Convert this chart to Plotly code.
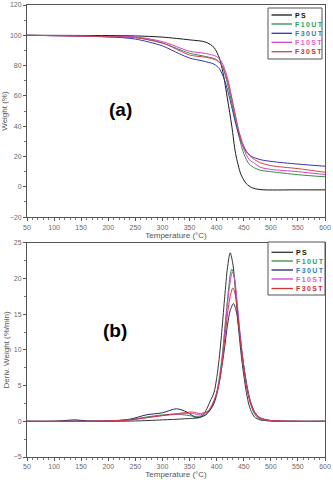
import plotly.graph_objects as go

# ---- TGA data (panel a) ----
ps_T = [50, 150, 250, 300, 350, 380, 395, 405, 412, 420, 428, 435, 445, 455, 465, 480, 550, 600]
ps_W = [100, 99.9, 99.6, 98.8, 97, 95.5, 92, 85, 75, 58, 40, 22, 8, 2, -0.5, -1.8, -2, -2]

f10ut_T = [50, 150, 200, 250, 300, 350, 380, 400, 410, 420, 430, 440, 450, 460, 470, 480, 500, 550, 600]
f10ut_W = [100, 99.5, 99, 98.5, 94.8, 88.2, 86, 84, 80, 68, 52, 35, 22, 15, 12.5, 11, 10, 8, 6.6]

f30ut_T = [50, 150, 200, 250, 300, 330, 350, 375, 395, 405, 415, 425, 435, 445, 455, 465, 480, 500, 550, 600]
f30ut_W = [100, 99.5, 99, 97.5, 93, 88, 85, 83, 81, 78, 70, 57, 42, 30, 23, 20, 18, 16.8, 15, 13.6]

f10st_T = [50, 150, 200, 250, 300, 350, 380, 400, 410, 420, 430, 440, 450, 460, 470, 480, 500, 550, 600]
f10st_W = [100, 99.5, 99.2, 99, 95.8, 89.5, 88, 86, 82, 72, 55, 38, 25, 18, 15.5, 13, 11.5, 10, 8.1]

f30st_T = [50, 150, 200, 250, 300, 350, 380, 400, 410, 420, 430, 440, 450, 460, 470, 480, 500, 550, 600]
f30st_W = [100, 99.5, 99, 98.5, 95, 87, 85.5, 83.5, 80, 70, 55, 38, 27, 21, 18, 16, 14, 12, 9.6]

# ---- DTG data (panel b) ----
ps_dT = [50, 100, 150, 200, 250, 300, 340, 370, 380, 388, 395, 400, 405, 410, 415, 420, 425, 430, 435, 440, 445, 450, 455, 460, 465, 470, 480, 500, 550, 600]
ps_D = [0, 0, 0, 0, 0.05, 0.2, 0.35, 0.6, 1.5, 2.8, 4, 6, 9, 13, 17.5, 21.5, 23.6, 22, 18, 13.5, 9.5, 6.5, 4, 2.2, 1.2, 0.6, 0.2, 0.05, 0, 0]

f10ut_dT = [50, 100, 150, 200, 240, 270, 300, 320, 340, 360, 375, 390, 400, 410, 415, 420, 425, 428, 432, 437, 442, 447, 452, 457, 462, 467, 472, 480, 500, 550, 600]
f10ut_D = [0, 0, 0.05, 0.05, 0.2, 0.6, 0.9, 1.0, 0.9, 0.7, 0.8, 1.8, 4, 9, 13, 17, 20.5, 21.3, 20.5, 17, 13, 9.5, 6.5, 4.2, 2.6, 1.5, 0.8, 0.3, 0.05, 0, 0]

f30ut_dT = [50, 100, 140, 160, 200, 240, 270, 300, 326, 345, 363, 380, 395, 405, 415, 420, 425, 431, 436, 441, 446, 451, 456, 461, 466, 471, 480, 500, 550, 600]
f30ut_D = [0, 0, 0.2, 0.05, 0.05, 0.3, 0.9, 1.2, 1.75, 1.3, 0.5, 0.9, 2.5, 5.5, 10.5, 13.5, 15.5, 16.5, 15.5, 13, 10, 7.3, 5, 3.2, 2, 1.2, 0.5, 0.1, 0, 0]

f10st_dT = [50, 100, 150, 200, 240, 270, 300, 330, 355, 370, 385, 400, 410, 415, 420, 425, 429, 433, 438, 443, 448, 453, 458, 463, 468, 473, 480, 500, 550, 600]
f10st_D = [0, 0, 0, 0.05, 0.2, 0.5, 0.8, 1.0, 1.1, 0.9, 1.5, 4, 8.5, 12.5, 16.5, 19.5, 20.9, 20, 16.5, 12.5, 9, 6, 4, 2.5, 1.5, 0.8, 0.4, 0.1, 0, 0]

f30st_dT = [50, 100, 150, 200, 240, 270, 300, 330, 355, 370, 385, 400, 410, 415, 420, 425, 430, 435, 440, 445, 450, 455, 460, 465, 470, 480, 500, 550, 600]
f30st_D = [0, 0, 0, 0.05, 0.2, 0.5, 0.8, 1.1, 1.3, 1.1, 1.5, 3.8, 8, 11.5, 15, 17.5, 18.7, 17.5, 14, 10.5, 7.5, 5, 3.2, 2, 1.2, 0.5, 0.1, 0, 0]

series_names = ["PS", "F10UT", "F30UT", "F10ST", "F30ST"]
line_colors_a = ["#1a1a1a", "#3a8a4a", "#3434b8", "#d040d0", "#c84848"]
line_colors_b = ["#333333", "#3a8a4a", "#242468", "#d040d0", "#d03838"]
text_colors = ["#111111", "#2ca060", "#2a80b8", "#e060c8", "#d03030"]

W, H = 333, 480
ML, MR, MT, MB = 27, 8, 5, 23


def px_x(p):
    return (p - ML) / (W - ML - MR)


def px_y(p):
    return (H - MB - p) / (H - MT - MB)


def spaced(s):
    return "\u2009".join(list(s))


tga = [(ps_T, ps_W), (f10ut_T, f10ut_W), (f30ut_T, f30ut_W), (f10st_T, f10st_W), (f30st_T, f30st_W)]
dtg = [(ps_dT, ps_D), (f10ut_dT, f10ut_D), (f30ut_dT, f30ut_D), (f10st_dT, f10st_D), (f30st_dT, f30st_D)]

fig = go.Figure()
for i, (t, w) in enumerate(tga):
    fig.add_trace(go.Scatter(
        x=t, y=w, mode="lines", line=dict(color=line_colors_a[i], width=1, shape="spline", smoothing=0.8),
        name=series_names[i], xaxis="x", yaxis="y"))
for i, (t, d) in enumerate(dtg):
    fig.add_trace(go.Scatter(
        x=t, y=d, mode="lines", line=dict(color=line_colors_b[i], width=1, shape="spline", smoothing=0.8),
        name=series_names[i], xaxis="x2", yaxis="y2"))

# compact legends (pixel layout)
shapes = []
annotations = []
legend_boxes = [
    dict(x0=268, x1=322, y0=8, y1=59, rows=[15, 24, 33.3, 42.3, 51.7], lx0=271.5, lx1=292, colors=line_colors_a),
    dict(x0=268, x1=325, y0=242, y1=295, rows=[252.3, 261, 270, 279, 288.5], lx0=271.5, lx1=293, colors=line_colors_b),
]
for lb in legend_boxes:
    shapes.append(dict(type="rect", xref="paper", yref="paper",
                       x0=px_x(lb["x0"]), x1=px_x(lb["x1"]), y0=px_y(lb["y1"]), y1=px_y(lb["y0"]),
                       line=dict(color="#555555", width=1), fillcolor="white", layer="above"))
    for i, ry in enumerate(lb["rows"]):
        shapes.append(dict(type="line", xref="paper", yref="paper",
                           x0=px_x(lb["lx0"]), x1=px_x(lb["lx1"]), y0=px_y(ry), y1=px_y(ry),
                           line=dict(color=lb["colors"][i], width=1.3), layer="above"))
        annotations.append(dict(text="<b>%s</b>" % spaced(series_names[i]), xref="paper", yref="paper",
                                x=px_x(lb["lx1"] + 1), y=px_y(ry), xanchor="left", yanchor="middle",
                                showarrow=False,
                                font=dict(size=7, color=text_colors[i], family="Liberation Sans, Arial")))

annotations += [
    dict(text="<b>(a)</b>", xref="paper", yref="paper", x=px_x(120), y=px_y(109), showarrow=False,
         xanchor="center", yanchor="middle",
         font=dict(size=19, color="black", family="Liberation Sans, Arial")),
    dict(text="<b>(b)</b>", xref="paper", yref="paper", x=px_x(115), y=px_y(330), showarrow=False,
         xanchor="center", yanchor="middle",
         font=dict(size=19, color="black", family="Liberation Sans, Arial")),
]

tickfont = dict(family="Liberation Sans, Arial", size=7, color="#6a6a6a")
titlefont = dict(family="Liberation Sans, Arial", size=8, color="#555555")
axis_common = dict(showline=True, linecolor="#555555", linewidth=1, mirror=True, ticks="outside",
                   ticklen=3, tickcolor="#555555", tickfont=tickfont, showgrid=False, zeroline=False,
                   automargin=False)
minor_x = dict(dtick=10, ticks="outside", ticklen=2, tickcolor="#777777")

fig.update_layout(
    width=W, height=H, paper_bgcolor="white", plot_bgcolor="white",
    margin=dict(l=ML, r=MR, t=MT, b=MB),
    font=dict(family="Liberation Sans, Arial"),
    showlegend=False,
    xaxis=dict(domain=[0, 1], anchor="y", range=[50, 600], dtick=50, minor=minor_x,
               title=dict(text="Temperature (°C)", font=titlefont, standoff=1), **axis_common),
    yaxis=dict(domain=[0.5307, 1], anchor="x", range=[-20, 120], dtick=20,
               minor=dict(dtick=10, ticks="outside", ticklen=2, tickcolor="#777777"),
               title=dict(text="Weight (%)", font=titlefont, standoff=2), **axis_common),
    xaxis2=dict(domain=[0, 1], anchor="y2", range=[50, 600], dtick=50, minor=minor_x,
                title=dict(text="Temperature (°C)", font=titlefont, standoff=1), **axis_common),
    yaxis2=dict(domain=[0, 0.4738], anchor="x2", range=[-5, 25], dtick=5,
                minor=dict(dtick=2.5, ticks="outside", ticklen=2, tickcolor="#777777"),
                title=dict(text="Deriv. Weight (%/min)", font=titlefont, standoff=2), **axis_common),
    shapes=shapes,
    annotations=annotations,
)

fig.write_html("out.html", config={"displayModeBar": False},
               post_script="document.body.style.margin='0';")
